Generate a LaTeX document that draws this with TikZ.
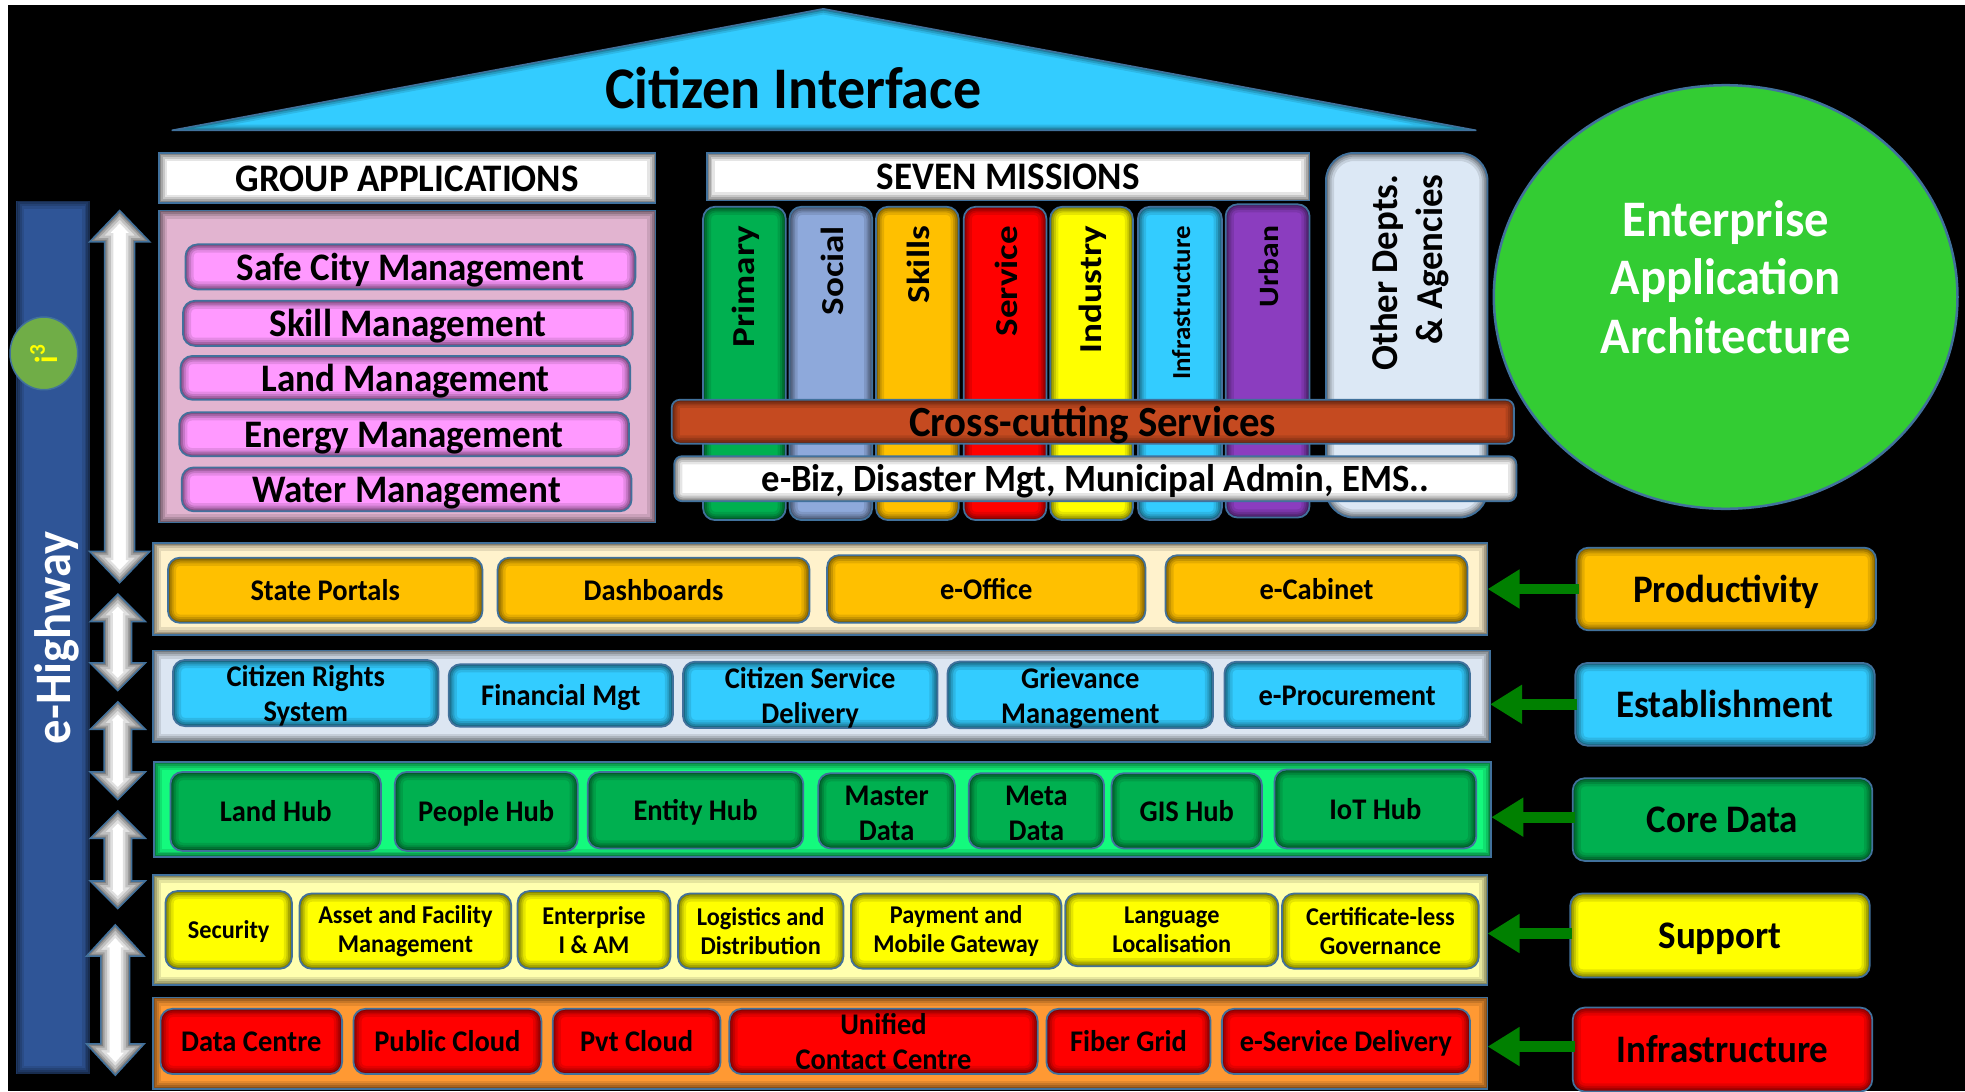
\documentclass[tikz,border=0pt]{standalone}
\usepackage{fontspec}
\setmainfont{Carlito}[FakeStretch=0.95]
\usetikzlibrary{shapes.geometric,arrows.meta}
\def\uu{0.6266pt}
\newcommand\dnA{\rule{0pt}{0.9em}}
\newcommand\dnB{\rule{0pt}{0.82em}}
\definecolor{edgeb}{HTML}{41719C}
\definecolor{cgold}{RGB}{255,192,0}
\definecolor{csky}{RGB}{51,204,255}
\definecolor{cgreen}{RGB}{0,176,80}
\definecolor{cyel}{RGB}{255,255,0}
\definecolor{cred}{RGB}{255,0,0}
\definecolor{chw}{RGB}{47,85,151}
\definecolor{ci}{RGB}{112,173,71}
\definecolor{ctxty}{RGB}{255,255,0}
\definecolor{cpanel}{RGB}{226,180,208}
\definecolor{cpill}{RGB}{255,153,255}
\definecolor{ccirc}{RGB}{51,204,51}
\definecolor{csocial}{RGB}{142,169,219}
\definecolor{curban}{RGB}{139,61,191}
\definecolor{cother}{RGB}{220,232,245}
\definecolor{ccross}{RGB}{197,74,32}
\definecolor{cbone}{RGB}{255,242,204}
\definecolor{cbtwo}{RGB}{220,230,242}
\definecolor{cbthree}{RGB}{20,250,125}
\definecolor{cbfour}{RGB}{255,255,175}
\definecolor{cbfive}{RGB}{255,153,51}
\definecolor{carrow}{RGB}{0,128,0}
\tikzset{
  x=0.6266pt,y=-0.6266pt,
  shadein/.style={path picture={\foreach \w/\o in {13/.10,9/.13,6/.16,3/.2}{\draw[black,opacity=\o,line width=\w*\uu,rounded corners=#1] (path picture bounding box.south west) rectangle (path picture bounding box.north east);}}},
  panel/.style={draw=edgeb,line width=1.4*\uu,fill=#1,shadein=0pt},
  rbox/.style={draw=edgeb,line width=1.4*\uu,fill=#1,rounded corners=6pt,shadein=6pt},
  fs/.style={font=\pgfmathsetmacro\ls{1.15*#1}\fontsize{#1}{\ls}\selectfont\bfseries},
  fss/.style={fs=#1,text height=0.68*#1pt,text depth=0pt},
  garrow/.style={draw=carrow,line width=8.5*\uu,-{Triangle[length=16pt,width=18.5pt]},shorten <=-1pt},
}
\newcommand\bx[7]{\node[#1,minimum width=(#5-#3)*\uu,minimum height=(#6-#4)*\uu,inner sep=0pt,outer sep=0pt,align=center] (#2) at ({(#3+#5)/2},{(#4+#6)/2}) {#7};}
% name, x centre, top, bottom, head half-width, shaft half-width, head length
\newcommand\darr[7]{%
  \def\arpath{(#2,#3) -- ({#2+#5},{#3+#7}) -- ({#2+#6},{#3+#7}) -- ({#2+#6},{#4-#7}) -- ({#2+#5},{#4-#7}) -- (#2,#4) -- ({#2-#5},{#4-#7}) -- ({#2-#6},{#4-#7}) -- ({#2-#6},{#3+#7}) -- ({#2-#5},{#3+#7}) -- cycle}%
  \fill[white] \arpath;
  \begin{scope}
  \clip \arpath;
  \foreach \w/\o in {14/.12,10/.14,6/.17,3/.2}{\draw[black,opacity=\o,line width=\w*\uu] \arpath;}
  \end{scope}
  \draw[edgeb,line width=1.2*\uu] \arpath;
  \coordinate (#1) at (#2,{(#3+#4)/2});}
% name,x1,y1,x2,y2,fill,size,scale,text
\newcommand\pillar[9]{%
  \bx{rbox=#6}{#1}{#2}{#3}{#4}{#5}{}
  \node[fs=#7,rotate=90,anchor=east,inner sep=0pt] (#1t) at ({(#2+#4)/2+1},180) {\scalebox{#8}[1]{#9}};}
\begin{document}
\begin{tikzpicture}
\useasboundingbox (0,0) rectangle (1568,870.6);
\fill[white] (0,0) rectangle (1568,870.6);
\fill[black] (6,4) rectangle (1568,870.6);
% roof
\fill[csky] (657,7) -- (1178,104) -- (137,104) -- cycle;
\begin{scope}
\clip (657,7) -- (1178,104) -- (137,104) -- cycle;
\foreach \w/\o in {9/.10,6/.14,3/.2}{\draw[black,opacity=\o,line width=\w*\uu] (657,7) -- (1178,104) -- (137,104) -- cycle;}
\end{scope}
\draw[edgeb,line width=1.2*\uu] (657,7) -- (1178,104) -- (137,104) -- cycle;
\node[fs=29.5,inner sep=0pt] (roof) at (633,70) {Citizen Interface};
% e-Highway
\bx{panel=chw,draw=none}{hw}{13}{160}{72}{857}{}
\node[fs=25.6,rotate=90,text=white,inner sep=0pt] (hwt) at (45,509) {e-Highway};
\node[ellipse,draw=edgeb,line width=1.2*\uu,fill=ci,minimum width=54*\uu,minimum height=58*\uu,inner sep=0pt,fs=16,text=ctxty] (i3) at (35,282) {\rotatebox{90}{i\textsuperscript{3}}};
% double arrows
\darr{a1}{95.5}{168}{465}{24}{12}{25}
\darr{a2}{94}{474}{551}{22}{11}{22}
\darr{a3}{94}{560}{638}{22}{11}{22}
\darr{a4}{94}{647}{725}{22}{11}{22}
\darr{a5}{92}{738}{858}{23}{11.5}{25}
% group applications
\bx{panel=white,fss=19.5}{group}{127}{122}{523}{162}{GROUP APPLICATIONS}
\bx{panel=cpanel}{pink}{127}{168}{523}{417}{}
\bx{rbox=cpill,fss=19.5}{g1}{148}{195}{507}{231}{Safe City Management}
\bx{rbox=cpill,fss=19.5}{g2}{146}{240}{505}{276}{Skill Management}
\bx{rbox=cpill,fss=19.5}{g3}{144}{284}{503}{319}{Land Management}
\bx{rbox=cpill,fss=19.5}{g4}{143}{329}{502}{364}{Energy Management}
\bx{rbox=cpill,fss=19.5}{g5}{145}{373}{504}{408}{Water Management}
% circle
\node[ellipse,draw=edgeb,line width=2*\uu,fill=ccirc,minimum width=370*\uu,minimum height=338*\uu,inner sep=0pt] (eaa) at (1377,237) {};
\node[font=\fontsize{25.6}{29.2}\selectfont\bfseries,text=white,inner sep=0pt,align=center] (eaat) at (1377,221) {Enterprise\\Application\\Architecture};
% seven missions
\bx{panel=white,fss=19.5}{seven}{564}{122}{1045}{160}{SEVEN MISSIONS}
\pillar{p1}{561}{165}{627}{415}{cgreen}{16}{1.22}{Primary}
\pillar{p2}{630}{165}{696}{415}{csocial}{16}{1.22}{Social}
\pillar{p3}{699}{165}{765}{415}{cgold}{16}{1.22}{Skills}
\pillar{p4}{769}{165}{835}{415}{cred}{16}{1.22}{Service}
\pillar{p5}{838}{165}{904}{415}{cyel}{16}{1.22}{Industry}
\pillar{p6}{908}{165}{975}{415}{csky}{13}{1.09}{Infrastructure}
\pillar{p7}{978}{163}{1045}{413}{curban}{14}{1.19}{Urban}
\node[draw=edgeb,line width=1.4*\uu,fill=cother,rounded corners=14pt,shadein=14pt,minimum width=129*\uu,minimum height=291*\uu,inner sep=0pt] (other) at (1122.5,267.5) {};
\node[font=\fontsize{19}{22.5}\selectfont\bfseries,rotate=90,anchor=east,inner sep=0pt,align=right] (othert) at (1125,139) {\scalebox{1.02}[1]{Other Depts.}\\\scalebox{1.02}[1]{\& Agencies}};
\bx{draw=edgeb,line width=1.4*\uu,fill=ccross,rounded corners=4pt,shadein=4pt,fss=21.5}{cross}{536}{319}{1208}{354}{Cross-cutting Services}
\bx{draw=edgeb,line width=1.4*\uu,fill=white,rounded corners=4pt,shadein=4pt,fss=19.3}{ebiz}{538}{364}{1210}{400}{e-Biz, Disaster Mgt, Municipal Admin, EMS..}
% bands
\bx{panel=cbone}{band1}{122}{433}{1187}{507}{}
\bx{panel=cbtwo}{band2}{122}{519}{1189}{592}{}
\bx{panel=cbthree}{band3}{123}{608}{1190}{684}{}
\bx{panel=cbfour}{band4}{122}{698}{1187}{786}{}
\bx{panel=cbfive}{band5}{122}{796}{1187}{869}{}
% productivity
\bx{rbox=cgold,fss=15}{b11}{134}{445}{385}{497}{State Portals}
\bx{rbox=cgold,fss=15}{b12}{397}{445}{646}{497}{Dashboards}
\bx{rbox=cgold,fss=15}{b13}{660}{443}{914}{497}{e-Office}
\bx{rbox=cgold,fss=15}{b14}{930}{443}{1171}{497}{e-Cabinet}
% establishment
\bx{rbox=csky,fs=15}{b21}{138}{528}{350}{578}{\dnA Citizen Rights\\System}
\bx{rbox=csky,fss=15}{b22}{358}{530}{537}{580}{Financial Mgt}
\bx{rbox=csky,fs=15}{b23}{545}{528}{748}{581}{\dnA Citizen Service\\Delivery}
\bx{rbox=csky,fs=15}{b24}{756}{528}{968}{581}{\dnA Grievance\\Management}
\bx{rbox=csky,fss=15}{b25}{977}{528}{1173}{581}{e-Procurement}
% core data
\bx{rbox=cgreen,fss=15}{b31}{136}{616}{304}{679}{Land Hub}
\bx{rbox=cgreen,fss=15}{b32}{315}{616}{461}{679}{People Hub}
\bx{rbox=cgreen,fss=15}{b33}{469}{616}{641}{677}{Entity Hub}
\bx{rbox=cgreen,fs=15}{b34}{653}{617}{762}{677}{\dnB Master\\Data}
\bx{rbox=cgreen,fs=15}{b35}{773}{617}{881}{677}{\dnB Meta\\Data}
\bx{rbox=cgreen,fss=15}{b36}{887}{617}{1007}{677}{GIS Hub}
\bx{rbox=cgreen,fss=15}{b37}{1017}{614}{1178}{677}{IoT Hub}
% support
\bx{rbox=cyel,fss=12.8}{b41}{132}{711}{233}{773}{Security}
\bx{rbox=cyel,fs=12.8}{b42}{239}{713}{408}{773}{Asset and Facility\\Management}
\bx{rbox=cyel,fs=12.8}{b43}{413}{711}{535}{773}{Enterprise\\I \& AM}
\bx{rbox=cyel,fs=12.8}{b44}{541}{713}{673}{773}{Logistics and\\Distribution}
\bx{rbox=cyel,fs=12.8}{b45}{679}{713}{847}{773}{Payment and\\Mobile Gateway}
\bx{rbox=cyel,fs=12.8}{b46}{850}{713}{1020}{771}{Language\\Localisation}
\bx{rbox=cyel,fs=12.8}{b47}{1023}{713}{1180}{773}{Certificate-less\\Governance}
% infrastructure
\bx{rbox=cred,fss=15}{b51}{128}{805}{273}{857}{Data Centre}
\bx{rbox=cred,fss=15}{b52}{282}{805}{432}{857}{Public Cloud}
\bx{rbox=cred,fss=15}{b53}{441}{805}{575}{857}{Pvt Cloud}
\bx{rbox=cred,fs=15}{b54}{582}{805}{828}{857}{Unified\\Contact Centre}
\bx{rbox=cred,fss=15}{b55}{835}{805}{966}{857}{Fiber Grid}
\bx{rbox=cred,fss=15}{b56}{975}{805}{1173}{857}{e-Service Delivery}
% right labels
\bx{rbox=cgold,fss=19.5}{r1}{1258}{437}{1497}{503}{Productivity}
\bx{rbox=csky,fss=19.5}{r2}{1257}{529}{1496}{595}{Establishment}
\bx{rbox=cgreen,fss=19.5}{r3}{1255}{621}{1494}{687}{Core Data}
\bx{rbox=cyel,fss=19.5}{r4}{1253}{713}{1492}{780}{Support}
\bx{rbox=cred,fss=19.5}{r5}{1255}{804}{1494}{871}{Infrastructure}
% connectors
\draw[garrow] (r1.west) -- (band1.east |- r1.west);
\draw[garrow] (r2.west) -- (band2.east |- r2.west);
\draw[garrow] ([yshift=1.2pt]r3.west) -- ([yshift=1.2pt]band3.east |- r3.west);
\draw[garrow] ([yshift=1pt]r4.west) -- ([yshift=1pt]band4.east |- r4.west);
\draw[garrow] ([yshift=1.5pt]r5.west) -- ([yshift=1.5pt]band5.east |- r5.west);
\end{tikzpicture}
\end{document}
